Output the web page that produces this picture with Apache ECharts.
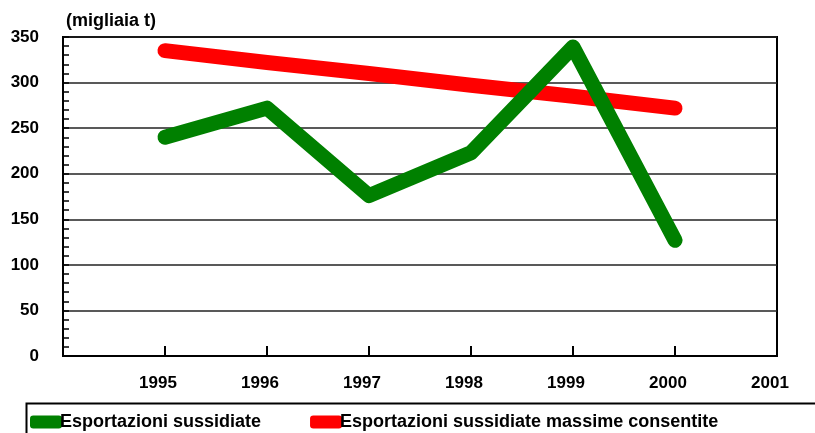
<!DOCTYPE html>
<html>
<head>
<meta charset="utf-8">
<script src="https://cdn.jsdelivr.net/npm/echarts@6/dist/echarts.min.js"></script>
<style>
  html, body { margin: 0; padding: 0; background: #fff; }
  #chart { width: 815px; height: 433px; }
</style>
</head>
<body>
<div id="chart"></div>
<script>
  // anni
  const years = [1995, 1996, 1997, 1998, 1999, 2000];
  // valori (migliaia t)
  const sussidiate = [240, 272, 176, 223, 339, 127];
  const massimeConsentite = [335, 322, 310, 297, 285, 272];
  const yTicks = [0, 50, 100, 150, 200, 250, 300, 350];

  const font = 'Liberation Sans, Arial, sans-serif';
  const chart = echarts.init(document.getElementById('chart'));

  const option = {
    backgroundColor: '#fff',
    animation: false,
    title: {
      text: '(migliaia t)',
      left: 61,
      top: 7,
      textStyle: { fontFamily: font, fontWeight: 'bold', fontSize: 18, color: '#000' }
    },
    grid: {
      left: 63, right: 38, top: 37, bottom: 77,
      show: true, borderColor: '#000', borderWidth: 2
    },
    xAxis: {
      type: 'value',
      min: 1994,
      max: 2001,
      interval: 1,
      axisLine: { lineStyle: { color: '#000', width: 2 } },
      axisTick: { show: true, inside: true, length: 10, lineStyle: { color: '#000', width: 2 } },
      splitLine: { show: false },
      axisLabel: {
        margin: 19,
        padding: [0, 14, 0, 0],
        fontFamily: font, fontWeight: 'bold', fontSize: 17, color: '#000',
        formatter: v => (v === 1994 ? '' : String(v))
      }
    },
    yAxis: {
      type: 'value',
      min: yTicks[0],
      max: yTicks[yTicks.length - 1],
      interval: 50,
      axisLine: { show: true, lineStyle: { color: '#000', width: 2 } },
      axisTick: { show: true, inside: true, length: 6, lineStyle: { color: '#000', width: 1.5 } },
      minorTick: { show: true, splitNumber: 5, length: 6, lineStyle: { color: '#000', width: 1.5 } },
      splitLine: { show: true, lineStyle: { color: '#222', width: 1.5 } },
      axisLabel: {
        margin: 24,
        fontFamily: font, fontWeight: 'bold', fontSize: 17, color: '#000'
      }
    },
    legend: {
      left: 25,
      top: 408,
      itemGap: 49,
      itemWidth: 32,
      itemHeight: 13,
      icon: 'roundRect',
      textStyle: { fontFamily: font, fontWeight: 'bold', fontSize: 18, color: '#000', padding: [2, 0, 0, -7] },
      data: ['Esportazioni sussidiate', 'Esportazioni sussidiate massime consentite']
    },
    graphic: [{
      type: 'rect',
      left: 24,
      top: 401,
      shape: { width: 820, height: 60 },
      style: { fill: 'none', stroke: '#000', lineWidth: 2 },
      silent: true
    }],
    series: [
      {
        name: 'Esportazioni sussidiate',
        type: 'line',
        symbol: 'none',
        color: '#008000',
        lineStyle: { width: 15, cap: 'round', join: 'round', color: '#008000' },
        data: years.map((y, i) => [y, sussidiate[i]]),
        z: 3
      },
      {
        name: 'Esportazioni sussidiate massime consentite',
        type: 'line',
        symbol: 'none',
        color: '#ff0000',
        lineStyle: { width: 15, cap: 'round', join: 'round', color: '#ff0000' },
        data: years.map((y, i) => [y, massimeConsentite[i]]),
        z: 2
      }
    ]
  };

  chart.setOption(option);
</script>
</body>
</html>
